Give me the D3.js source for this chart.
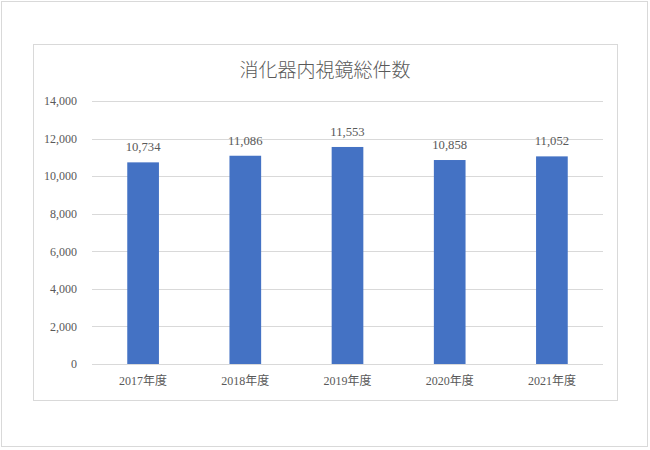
<!DOCTYPE html>
<html>
<head>
<meta charset="utf-8">
<script src="https://cdn.jsdelivr.net/npm/d3@7"></script>
<style>
  body { margin: 0; background: #fff; }
  text { font-family: "Liberation Serif", "DejaVu Serif", "Noto Sans CJK JP", serif; fill: #595959; }
</style>
</head>
<body>
<div id="chart"></div>
<script>
// 消化器内視鏡総件数
var years = ["2017年度", "2018年度", "2019年度", "2020年度", "2021年度"];
var counts = [10734, 11086, 11553, 10858, 11052];
var yTicks = [0, 2000, 4000, 6000, 8000, 10000, 12000, 14000];

var svg = d3.select("#chart").append("svg")
    .attr("width", 650)
    .attr("height", 450);

// outer frame and chart area frame
svg.append("rect")
    .attr("x", 1.5).attr("y", 1.5)
    .attr("width", 646).attr("height", 445)
    .attr("fill", "none").attr("stroke", "#d9d9d9");
svg.append("rect")
    .attr("x", 33.5).attr("y", 44.5)
    .attr("width", 584).attr("height", 356)
    .attr("fill", "none").attr("stroke", "#d9d9d9");

var x = d3.scaleBand()
    .domain(years)
    .range([92, 603])
    .paddingInner(0.69)
    .paddingOuter(0.345);

var y = d3.scaleLinear()
    .domain([0, 14000])
    .range([364, 101]);

// gridlines
svg.append("g").selectAll("line")
    .data(yTicks)
  .enter().append("line")
    .attr("x1", 92).attr("x2", 603)
    .attr("y1", function(d) { return Math.round(y(d)) + 0.5; })
    .attr("y2", function(d) { return Math.round(y(d)) + 0.5; })
    .attr("stroke", "#d9d9d9");

// y axis labels
var yAxis = d3.axisLeft(y)
    .tickValues(yTicks)
    .tickSize(0)
    .tickPadding(15)
    .tickFormat(d3.format(","));
svg.append("g")
    .attr("transform", "translate(92,0)")
    .call(yAxis)
    .call(function(g) { g.select(".domain").remove(); })
    .selectAll("text")
    .style("font-size", "12px")
    .attr("fill", "#595959");

// x axis labels
var xAxis = d3.axisBottom(x).tickSize(0).tickPadding(12);
svg.append("g")
    .attr("transform", "translate(0,364)")
    .call(xAxis)
    .call(function(g) { g.select(".domain").remove(); })
    .selectAll("text")
    .style("font-size", "12px")
    .attr("fill", "#595959");

// bars
svg.append("g").selectAll("rect")
    .data(counts)
  .enter().append("rect")
    .attr("x", function(d, i) { return x(years[i]); })
    .attr("y", function(d) { return y(d); })
    .attr("width", x.bandwidth())
    .attr("height", function(d) { return y(0) - y(d); })
    .attr("fill", "#4472c4");

// value labels
svg.append("g").selectAll("text")
    .data(counts)
  .enter().append("text")
    .attr("x", function(d, i) { return x(years[i]) + x.bandwidth() / 2; })
    .attr("y", function(d) { return y(d) - 11; })
    .attr("text-anchor", "middle")
    .style("font-size", "12.7px")
    .text(d3.format(","));

// title
svg.append("text")
    .attr("x", 325)
    .attr("y", 77)
    .attr("text-anchor", "middle")
    .style("font-size", "19px")
    .style("font-family", "'Noto Sans CJK JP', sans-serif")
    .style("font-weight", "300")
    .text("消化器内視鏡総件数");
</script>
</body>
</html>
